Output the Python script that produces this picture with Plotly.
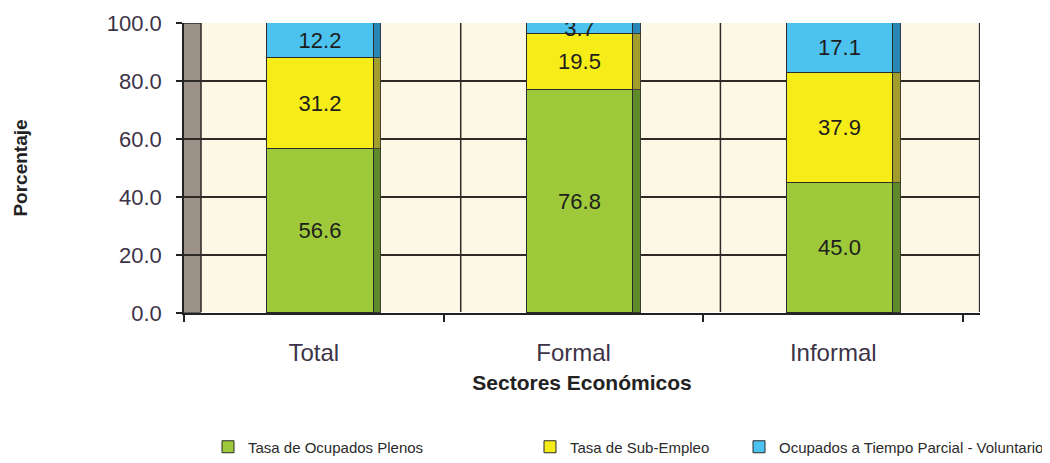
import plotly.graph_objects as go

categories = ["Total", "Formal", "Informal"]
plenos = [56.6, 76.8, 45.0]
subempleo = [31.2, 19.5, 37.9]
parcial = [12.2, 3.7, 17.1]
series_names = ["Tasa de Ocupados Plenos", "Tasa de Sub-Empleo",
                "Ocupados a Tiempo Parcial - Voluntario"]
y_ticks = [0, 20, 40, 60, 80, 100]

face_colors = ["#9dc93a", "#f6ec17", "#4cc2ee"]
side_colors = ["#5e8a2c", "#a39d2e", "#2a86b4"]
series = [plenos, subempleo, parcial]

FONT = "Liberation Sans, Arial, sans-serif"

fig = go.Figure()

legend_ids = ["legend", "legend2", "legend3"]
for i, (vals, name) in enumerate(zip(series, series_names)):
    fig.add_trace(go.Bar(
        x=categories, y=vals, name=name,
        marker=dict(color=face_colors[i], line=dict(color="#2b2b2b", width=1)),
        width=0.41, offset=-0.18,
        text=[f"{v:.1f}" for v in vals], textposition="inside",
        insidetextanchor="middle", constraintext="none",
        textfont=dict(size=22, color="#1e1e1e", family=FONT),
        legend=legend_ids[i], hoverinfo="skip",
    ))
    # 3D side faces
    fig.add_trace(go.Bar(
        x=categories, y=vals, xaxis="x2", showlegend=False,
        marker=dict(color=side_colors[i], line=dict(color="#2b2b2b", width=0.8)),
        width=0.03, offset=0.23, hoverinfo="skip",
    ))

xr = [-0.5, 2.565]
shift = 0.0655
shapes = [
    # left wall
    dict(type="rect", xref="x domain", yref="y domain", x0=0, x1=shift / (xr[1] - xr[0]),
         y0=0, y1=1, fillcolor="#9c9288", line=dict(width=0), layer="below"),
]
for yv in y_ticks:
    shapes.append(dict(type="line", xref="x domain", yref="y", x0=0,
                       x1=shift / (xr[1] - xr[0]), y0=yv, y1=yv,
                       line=dict(color="#2e2a26", width=1.5), layer="above"))
for xv in [-0.5 + shift, 0.5 + shift, 1.5 + shift, 2.5 + shift - 0.002]:
    shapes.append(dict(type="line", xref="x", yref="y domain", x0=xv, x1=xv, y0=0, y1=1,
                       line=dict(color="#2e2a26", width=1.5), layer="below"))

fig.update_layout(
    width=1050, height=463,
    margin=dict(l=176, r=78, t=15, b=158),
    paper_bgcolor="white", plot_bgcolor="#fdf8e6",
    barmode="stack", bargap=0,
    uniformtext=dict(minsize=22, mode="show"),
    shapes=shapes,
    font=dict(family=FONT),
    xaxis=dict(range=xr, type="category", tickson="boundaries", ticks="outside",
               ticklen=7, tickcolor="#222", tickwidth=1.5, automargin=False,
               showline=True, linecolor="#222", linewidth=1.5, showgrid=False,
               tickfont=dict(size=24, color="#3d3347", family=FONT),
               ticklabelstandoff=17,
               title=dict(text="<b>Sectores Económicos</b>", standoff=11,
                          font=dict(size=21, color="#222", family=FONT))),
    xaxis2=dict(range=xr, type="category", overlaying="x", visible=False,
                matches=None),
    yaxis=dict(range=[0, 100], tickvals=y_ticks, ticktext=[f"{v:.1f}" for v in y_ticks],
               ticks="outside", ticklen=6, tickcolor="#222", tickwidth=1.5,
               showline=True, linecolor="#222", linewidth=1.5, automargin=False,
               showgrid=True, gridcolor="#2e2a26", gridwidth=1.5,
               tickfont=dict(size=22, color="#3d3347", family=FONT),
               ticklabelstandoff=10,
               title=dict(text="<b>Porcentaje</b>", standoff=74,
                          font=dict(size=19, color="#222", family=FONT))),
)

legend_common = dict(orientation="h", xref="container", yref="container",
                     yanchor="middle", bgcolor="rgba(0,0,0,0)",
                     font=dict(size=15, color="#2a2a2a", family=FONT),
                     itemwidth=30, tracegroupgap=0)
fig.update_layout(
    legend=dict(x=200 / 1050, y=1 - 439 / 463, **legend_common),
    legend2=dict(x=522 / 1050, y=1 - 439 / 463, **legend_common),
    legend3=dict(x=731 / 1050, y=1 - 439 / 463, **legend_common),
)

fig.write_html("out.html")
